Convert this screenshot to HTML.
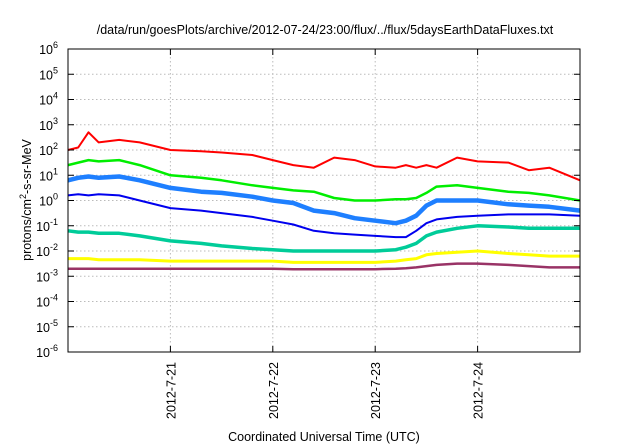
<!DOCTYPE html>
<html><head><meta charset="utf-8"><style>
body{margin:0;background:#fff;}
svg{display:block;font-family:"Liberation Sans",sans-serif;}
</style></head><body>
<svg id="c" width="640" height="448">
<text x="325" y="34" font-size="12.5" text-anchor="middle">/data/run/goesPlots/archive/2012-07-24/23:00/flux/../flux/5daysEarthDataFluxes.txt</text>
<text transform="translate(31,200) rotate(-90)" font-size="12.5" text-anchor="middle">protons/cm<tspan dy="-5" font-size="9">2</tspan><tspan dy="5">-s-sr-MeV</tspan></text>
<text x="324" y="441" font-size="12.5" text-anchor="middle">Coordinated Universal Time (UTC)</text>
<g id="grid"></g><g id="series"></g><g id="axes"></g>
</svg>
<script>
const xDays=[0,0.1,0.2,0.3,0.5,0.7,1.0,1.3,1.5,1.8,2.0,2.2,2.4,2.6,2.8,3.0,3.2,3.3,3.4,3.5,3.6,3.8,4.0,4.3,4.5,4.7,5.0];
const red=[2.0,2.1,2.7,2.3,2.4,2.3,2.0,1.95,1.9,1.8,1.6,1.4,1.3,1.7,1.6,1.35,1.3,1.4,1.3,1.4,1.3,1.7,1.55,1.5,1.2,1.3,0.8];
const green=[1.4,1.5,1.6,1.55,1.6,1.4,1.0,0.9,0.8,0.6,0.5,0.4,0.35,0.1,0.0,0.0,0.05,0.05,0.1,0.3,0.55,0.6,0.5,0.35,0.3,0.2,0.0];
const lightBlue=[0.8,0.9,0.95,0.9,0.95,0.8,0.5,0.35,0.3,0.15,0.0,-0.1,-0.4,-0.5,-0.7,-0.8,-0.9,-0.8,-0.6,-0.2,0.0,0.0,0.0,-0.15,-0.2,-0.25,-0.4];
const blue=[0.2,0.25,0.2,0.25,0.2,0.0,-0.3,-0.4,-0.5,-0.65,-0.8,-0.95,-1.2,-1.3,-1.35,-1.4,-1.45,-1.45,-1.2,-0.9,-0.75,-0.65,-0.6,-0.55,-0.55,-0.55,-0.6];
const teal=[-1.2,-1.25,-1.25,-1.3,-1.3,-1.4,-1.6,-1.7,-1.8,-1.9,-1.95,-2.0,-2.0,-2.0,-2.0,-2.0,-1.95,-1.85,-1.7,-1.4,-1.25,-1.1,-1.0,-1.05,-1.1,-1.1,-1.1];
const yellow=[-2.3,-2.3,-2.3,-2.35,-2.35,-2.35,-2.4,-2.4,-2.4,-2.4,-2.4,-2.45,-2.45,-2.45,-2.45,-2.45,-2.4,-2.35,-2.3,-2.15,-2.1,-2.05,-2.0,-2.1,-2.15,-2.2,-2.2];
const purple=[-2.7,-2.7,-2.7,-2.7,-2.7,-2.7,-2.7,-2.7,-2.7,-2.7,-2.7,-2.72,-2.72,-2.72,-2.72,-2.72,-2.7,-2.68,-2.65,-2.6,-2.55,-2.5,-2.5,-2.55,-2.6,-2.65,-2.65];
const dayLabels=["2012-7-21","2012-7-22","2012-7-23","2012-7-24"];
const yExps=[-6,-5,-4,-3,-2,-1,0,1,2,3,4,5,6];
const L=68,R=580,T=49,B=352;
const xs=d=>L+(R-L)*d/5;
const ys=e=>B-(B-T)*(e+6)/12;
const NS="http://www.w3.org/2000/svg";
function mk(tag,attrs,parent){const e=document.createElementNS(NS,tag);for(const k in attrs)e.setAttribute(k,attrs[k]);parent.appendChild(e);return e;}
const grid=document.getElementById('grid'),axes=document.getElementById('axes'),ser=document.getElementById('series');
yExps.forEach(e=>{
  const y=ys(e);
  if(e>-6&&e<6){const g=mk('line',{x1:L,x2:R,y1:y,y2:y,stroke:'#bbb','stroke-dasharray':'1.5,2.5','stroke-width':1},grid);
  
  }
  const tl=mk('line',{x1:L,x2:L+6,y1:y,y2:y,stroke:'#000'},axes);
  
  
  const tr=mk('line',{x1:R-6,x2:R,y1:y,y2:y,stroke:'#000'},axes);
  
  
  const t=mk('text',{x:L-10,y:y+5,'font-size':12.5,'text-anchor':'end'},axes);
  
  
  t.innerHTML='10<tspan dy="-6" font-size="9">'+e+'</tspan>';
});
dayLabels.forEach((lab,i)=>{
  const x=xs(i+1);
  const g=mk('line',{x1:x,x2:x,y1:T,y2:B,stroke:'#bbb','stroke-dasharray':'1.5,2.5'},grid);
  
  
  const tb=mk('line',{x1:x,x2:x,y1:B-6,y2:B,stroke:'#000'},axes);
  
  
  const tt=mk('line',{x1:x,x2:x,y1:T,y2:T+6,stroke:'#000'},axes);
  
  
  const t=mk('text',{transform:`translate(${x+5},${B+10}) rotate(-90)`,'font-size':12.5,'text-anchor':'end'},axes);
  
  
  t.textContent=lab;
});
const fr=mk('rect',{x:L,y:T,width:R-L,height:B-T,fill:'none',stroke:'#000','stroke-width':1},axes);


const seriesList=[[purple,'#993366',2.5,'series-purple'],[yellow,'#ffff00',3,'series-yellow'],[teal,'#00cc99',3.5,'series-teal'],[lightBlue,'#1e7fff',4.5,'series-light-blue'],[blue,'#0000ee',2,'series-blue'],[green,'#00ee00',2.5,'series-green'],[red,'#ff0000',2,'series-red']];
seriesList.forEach(([arr,col,w,name])=>{
  const d=arr.map((v,i)=>(i?'L':'M')+xs(xDays[i]).toFixed(1)+','+ys(v).toFixed(1)).join(' ');
  const p=mk('path',{d:d,fill:'none',stroke:col,'stroke-width':w,'stroke-linejoin':'round'},ser);
  
  
});
</script>
</body></html>
